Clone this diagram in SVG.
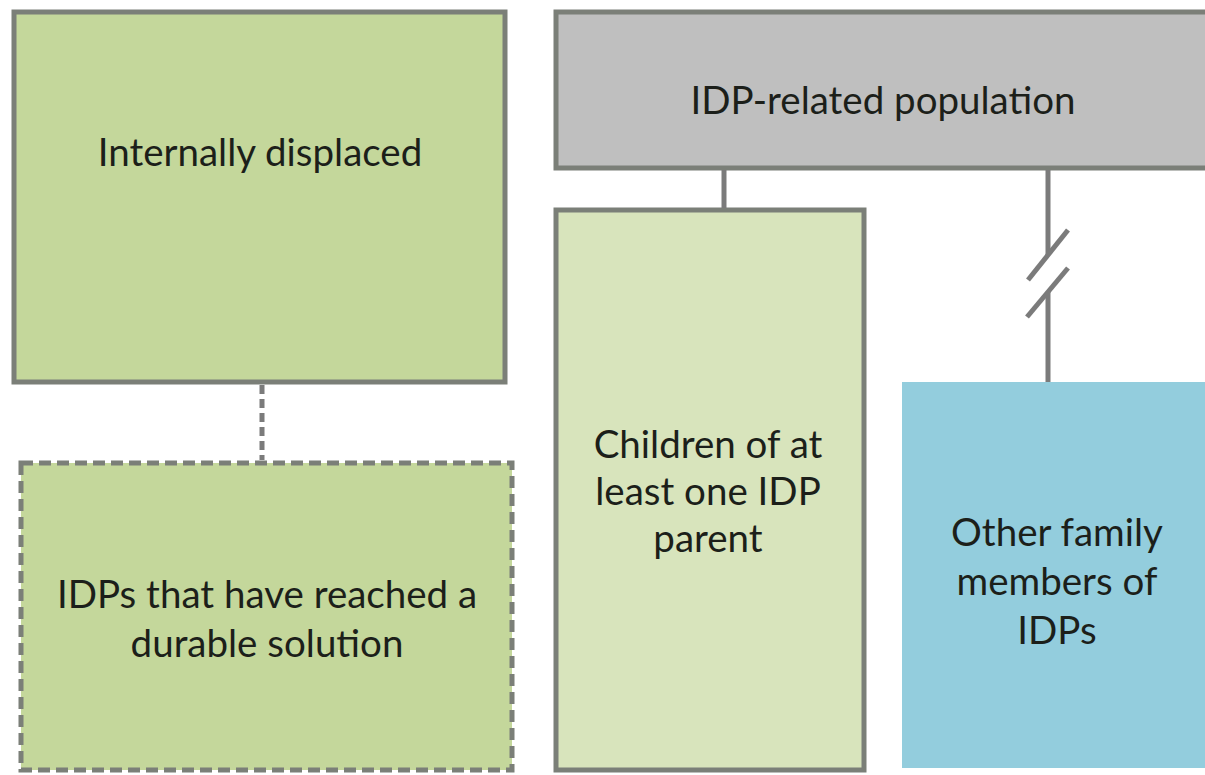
<svg xmlns="http://www.w3.org/2000/svg" width="1205" height="775" viewBox="0 0 1205 775">
<style>
.box{stroke:#7b7f78;stroke-width:5}
.t{font-family:Lato,"Liberation Sans",sans-serif;font-size:38.5px;fill:#1c1f1a;text-anchor:middle}
.c{stroke:#7b7b7b;stroke-width:5;fill:none}
</style>
<rect width="1205" height="775" fill="#ffffff"/>
<g id="internally-displaced">
<rect class="box" x="14" y="12" width="491" height="370" fill="#c4d79b"/>
<text class="t" x="260" y="166">Internally displaced</text>
</g>
<g id="durable-solution">
<rect class="box" x="21" y="463" width="491" height="307" fill="#c4d79b" stroke-dasharray="12,6"/>
<text class="t" x="267" y="608">IDPs that have reached a</text>
<text class="t" x="267" y="657">durable solution</text>
</g>
<g id="idp-related">
<rect class="box" x="556" y="12" width="660" height="156" fill="#bfbfbf"/>
<text class="t" x="883" y="114">IDP-related population</text>
</g>
<g id="children">
<rect class="box" x="556" y="210" width="308" height="560" fill="#d8e4bc"/>
<text class="t" x="708" y="458">Children of at</text>
<text class="t" x="708" y="505">least one IDP</text>
<text class="t" x="708" y="552">parent</text>
</g>
<g id="other-family">
<rect x="902" y="382" width="310" height="386" fill="#93cddd"/>
<text class="t" x="1057" y="546">Other family</text>
<text class="t" x="1057" y="595">members of</text>
<text class="t" x="1057" y="644">IDPs</text>
</g>
<g id="connectors">
<line class="c" x1="262" y1="385" x2="262" y2="460" stroke-dasharray="9,5"/>
<line class="c" x1="724" y1="170" x2="724" y2="208"/>
<line class="c" x1="1048" y1="170" x2="1048" y2="255"/>
<line class="c" x1="1048" y1="292" x2="1048" y2="382"/>
<line class="c" x1="1068" y1="230" x2="1028" y2="280"/>
<line class="c" x1="1068" y1="268" x2="1027" y2="317"/>
</g>
</svg>
